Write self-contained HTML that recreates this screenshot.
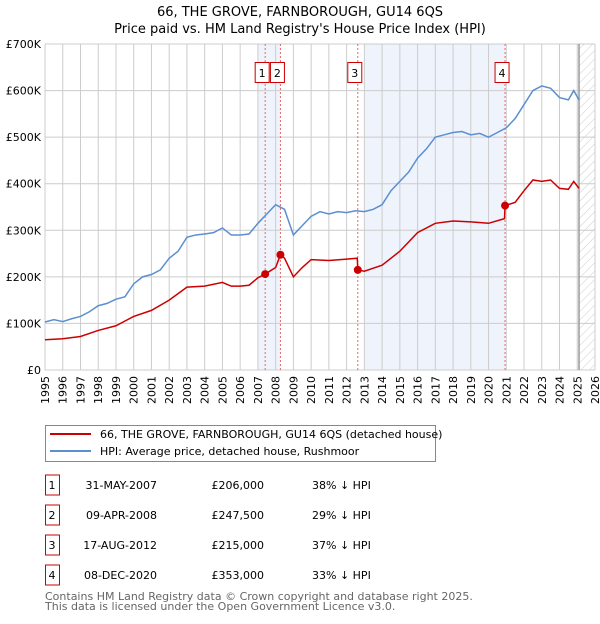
<!DOCTYPE html>
<html><head><meta charset="utf-8"><style>
body{margin:0;background:#fff;font-family:"DejaVu Sans","Liberation Sans",sans-serif}
svg text{font-family:"DejaVu Sans","Liberation Sans",sans-serif}
</style></head><body>
<svg id="c" width="600" height="620" viewBox="0 0 600 620" xmlns="http://www.w3.org/2000/svg">
<defs><pattern id="hatch" width="6" height="6" patternUnits="userSpaceOnUse" patternTransform="rotate(45)"><line x1="0" y1="0" x2="0" y2="6" stroke="#ccc" stroke-width="1"/></pattern></defs>
<text x="300" y="16" text-anchor="middle" font-size="13">66, THE GROVE, FARNBOROUGH, GU14 6QS</text>
<text x="300" y="33" text-anchor="middle" font-size="13">Price paid vs. HM Land Registry's House Price Index (HPI)</text>
<g id="plot"></g>
<g>
<rect x="45.5" y="425.5" width="390" height="36" fill="#fff" stroke="#888"/>
<line x1="50" y1="434" x2="91" y2="434" stroke="#cc0000" stroke-width="2"/>
<text x="100" y="438" font-size="11">66, THE GROVE, FARNBOROUGH, GU14 6QS (detached house)</text>
<line x1="50" y1="451" x2="91" y2="451" stroke="#5b8fd0" stroke-width="2"/>
<text x="100" y="455" font-size="11">HPI: Average price, detached house, Rushmoor</text>
</g>
<g id="table"></g>
<text x="45" y="600" font-size="11" fill="#666">Contains HM Land Registry data © Crown copyright and database right 2025.</text>
<text x="45" y="610" font-size="11" fill="#666">This data is licensed under the Open Government Licence v3.0.</text>
</svg>
<script>
const hpiYears=[1995,1995.5,1996,1996.5,1997,1997.5,1998,1998.5,1999,1999.5,2000,2000.5,2001,2001.5,2002,2002.5,2003,2003.5,2004,2004.5,2005,2005.5,2006,2006.5,2007,2007.5,2008,2008.5,2009,2009.5,2010,2010.5,2011,2011.5,2012,2012.5,2013,2013.5,2014,2014.5,2015,2015.5,2016,2016.5,2017,2017.5,2018,2018.5,2019,2019.5,2020,2020.5,2021,2021.5,2022,2022.5,2023,2023.5,2024,2024.5,2024.8,2025.1];
const hpiValues=[103,108,104,110,115,125,138,143,152,157,185,200,205,215,240,255,285,290,292,295,305,290,290,292,315,335,355,345,290,310,330,340,335,340,338,342,340,345,355,385,405,425,455,475,500,505,510,512,505,508,500,510,520,540,570,600,610,605,585,580,600,580];
const propYears=[1995,1996,1997,1998,1999,2000,2001,2002,2003,2004,2005,2005.5,2006,2006.5,2007,2007.41,2008,2008.27,2008.5,2009,2009.5,2010,2011,2012,2012.6,2012.63,2013,2014,2015,2016,2017,2018,2019,2020,2020.9,2020.93,2021.5,2022,2022.5,2023,2023.5,2024,2024.5,2024.8,2025.1];
const propValues=[65,67,72,85,95,115,128,150,178,180,188,180,180,182,198,206,220,247.5,240,200,220,237,235,238,240,215,212,225,255,295,315,320,318,315,325,353,360,385,408,405,408,390,388,405,390];
const saleLabels=["1","2","3","4"];
const saleYears=[2007.41,2008.27,2012.63,2020.93];
const salePrices=[206,247.5,215,353];
const saleDates=["31-MAY-2007","09-APR-2008","17-AUG-2012","08-DEC-2020"];
const salePriceText=["£206,000","£247,500","£215,000","£353,000"];
const salePct=["38% ↓ HPI","29% ↓ HPI","37% ↓ HPI","33% ↓ HPI"];
const yTicks=[0,100,200,300,400,500,600,700];
const yTickLabels=["£0","£100K","£200K","£300K","£400K","£500K","£600K","£700K"];
const xTicks=[];for(let y=1995;y<=2026;y++)xTicks.push(y);

const X0=45,X1=595,Y0=370,Y1=44,XMIN=1995,XMAX=2026,YMAX=700;
const sx=v=>X0+(v-XMIN)/(XMAX-XMIN)*(X1-X0);
const sy=v=>Y0-v/YMAX*(Y0-Y1);
const NS="http://www.w3.org/2000/svg";
const plot=document.getElementById('plot');
function mk(tag,attrs,parent){const e=document.createElementNS(NS,tag);for(const k in attrs)e.setAttribute(k,attrs[k]);(parent||plot).appendChild(e);return e;}

let r=mk('rect',{x:sx(2007.0),y:Y1,width:sx(2008.27)-sx(2007.0),height:Y0-Y1,fill:'#eef3fc'});


r=mk('rect',{x:sx(2013.0),y:Y1,width:sx(2020.93)-sx(2013.0),height:Y0-Y1,fill:'#eef3fc'});


r=mk('rect',{x:sx(2025.1),y:Y1,width:X1-sx(2025.1),height:Y0-Y1,fill:'url(#hatch)'});



xTicks.forEach(t=>{const l=mk('line',{x1:sx(t),x2:sx(t),y1:Y1,y2:Y0,stroke:'#ccc','stroke-width':1});


const tx=mk('text',{x:0,y:0,'font-size':11,'text-anchor':'end',transform:`translate(${sx(t)+4},${Y0+6}) rotate(-90)`});tx.textContent=t;

});
yTicks.forEach((t,i)=>{const l=mk('line',{x1:X0,x2:X1,y1:sy(t),y2:sy(t),stroke:'#ccc','stroke-width':1});


const tx=mk('text',{x:X0-4,y:sy(t)+4,'font-size':11,'text-anchor':'end'});tx.textContent=yTickLabels[i];

});
let vl=mk('line',{x1:sx(2025.1),x2:sx(2025.1),y1:Y1,y2:Y0,stroke:'#999','stroke-width':1.5});



saleYears.forEach((y,i)=>{const l=mk('line',{x1:sx(y),x2:sx(y),y1:Y1,y2:Y0,stroke:'#e66','stroke-width':1,'stroke-dasharray':'2,2'});

});

let p=mk('polyline',{points:hpiYears.map((y,i)=>sx(y)+','+sy(hpiValues[i])).join(' '),fill:'none',stroke:'#5b8fd0','stroke-width':1.5});


p=mk('polyline',{points:propYears.map((y,i)=>sx(y)+','+sy(propValues[i])).join(' '),fill:'none',stroke:'#cc0000','stroke-width':1.5});



saleYears.forEach((y,i)=>{const c=mk('circle',{cx:sx(y),cy:sy(salePrices[i]),r:4,fill:'#cc0000'});


const cxl=sx(y)-3;
const g=mk('rect',{x:cxl-7,y:62.5,width:14,height:20,fill:'#fff',stroke:'#cc0000'});


const t=mk('text',{x:cxl,y:77,'font-size':11,'text-anchor':'middle'});t.textContent=saleLabels[i];

});

const tb=document.getElementById('table');
saleLabels.forEach((s,i)=>{const yc=485+i*30;
const b=mk('rect',{x:45.5,y:yc-10,width:14,height:20,fill:'#fff',stroke:'#cc0000'},tb);


let t=mk('text',{x:52,y:yc+4,'font-size':11,'text-anchor':'middle'},tb);t.textContent=s;


t=mk('text',{x:157,y:yc+4,'font-size':11,'text-anchor':'end'},tb);t.textContent=saleDates[i];


t=mk('text',{x:264,y:yc+4,'font-size':11,'text-anchor':'end'},tb);t.textContent=salePriceText[i];


t=mk('text',{x:312,y:yc+4,'font-size':11},tb);t.textContent=salePct[i];

});
</script>
</body></html>
